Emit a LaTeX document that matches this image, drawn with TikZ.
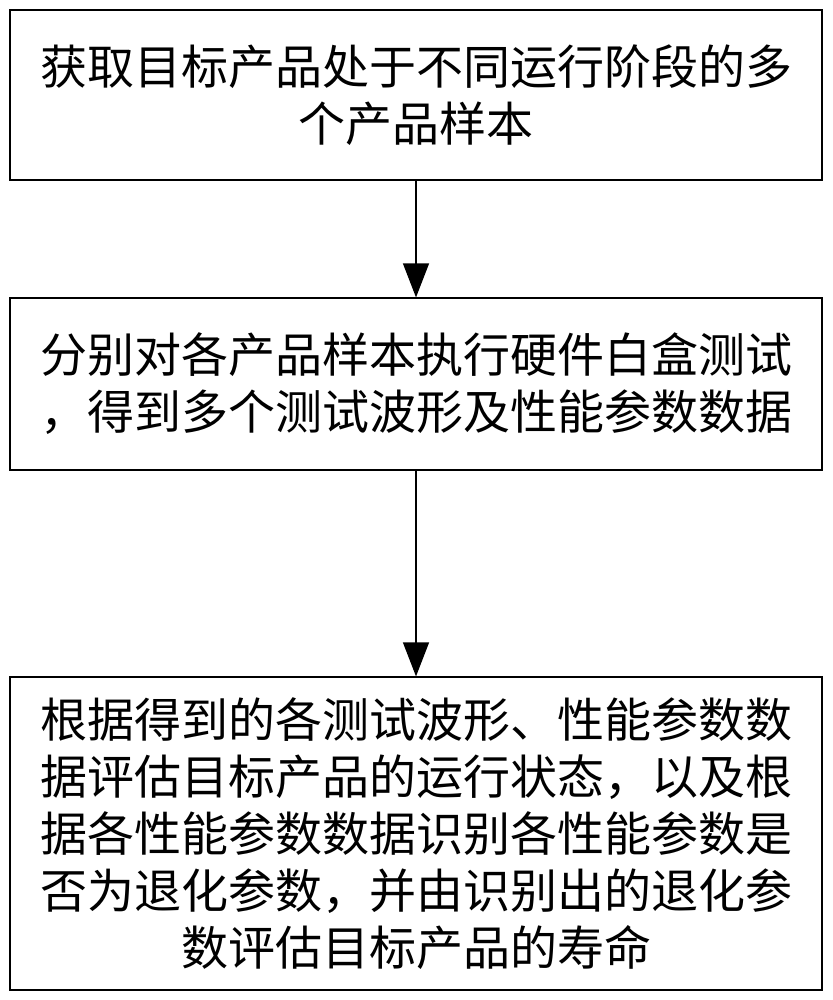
\documentclass[tikz,border=0pt]{standalone}
\usepackage{fontspec}
\usetikzlibrary{arrows.meta}
\newfontfamily\cjk{Noto Sans CJK SC}
\begin{document}
\begin{tikzpicture}[x=1pt,y=-1pt,
    stepbox/.style={draw, line width=1.2pt, minimum width=812pt, align=center,
        font=\cjk\fontsize{47}{57}\selectfont, inner sep=0pt},
    flow/.style={-{Triangle[length=34pt,width=26pt]}, line width=1.2pt}]
    \useasboundingbox (0,0) rectangle (832,1000);
    % Schritte
    \node[stepbox, minimum height=170pt] (s1) at (416,95)
        {获取目标产品处于不同运行阶段的多\\个产品样本};
    \node[stepbox, minimum height=172pt] (s2) at (416,384)
        {分别对各产品样本执行硬件白盒测试\\，得到多个测试波形及性能参数数据};
    \node[stepbox, minimum height=313pt] (s3) at (416,833.5)
        {根据得到的各测试波形、性能参数数\\据评估目标产品的运行状态，以及根\\据各性能参数数据识别各性能参数是\\否为退化参数，并由识别出的退化参\\数评估目标产品的寿命};
    % Pfeile
    \draw[flow] (s1) -- (s2);
    \draw[flow] (s2) -- (s3);
\end{tikzpicture}
\end{document}
